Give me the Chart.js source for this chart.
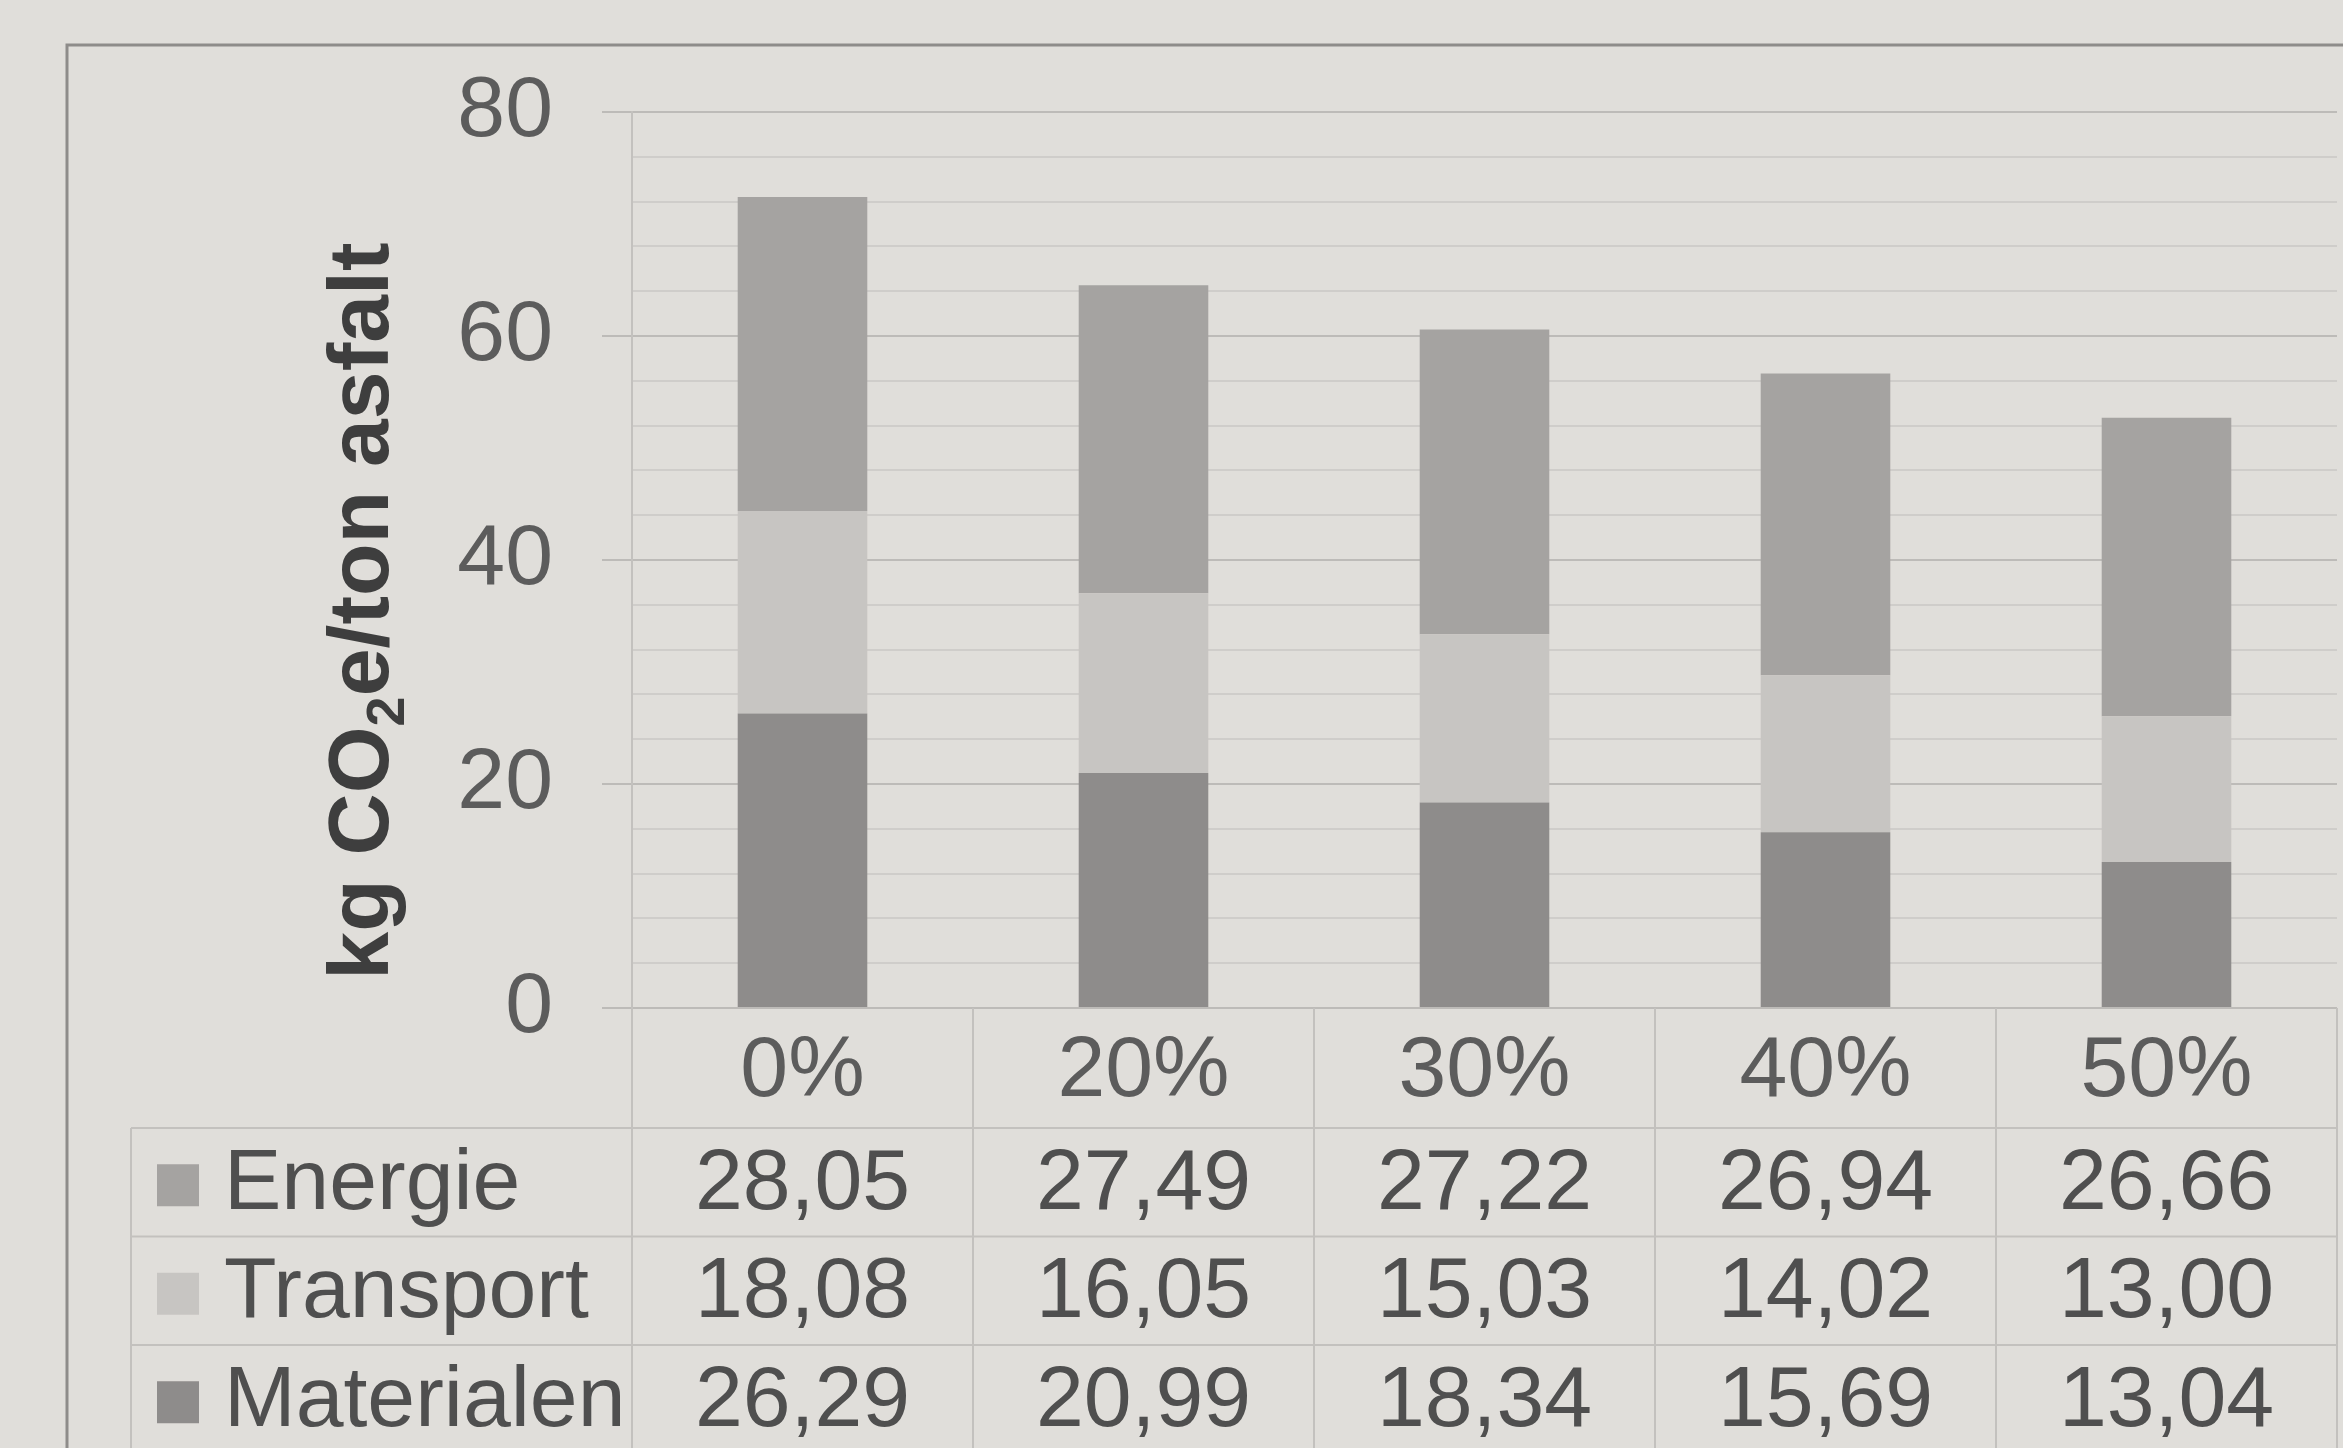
<!DOCTYPE html>
<html lang="nl">
  <head>
    <meta charset="UTF-8" />
    <title>CO2e per ton asfalt</title>
    <script src="https://cdn.jsdelivr.net/npm/chart.js"></script>
    <style>
      html, body { margin: 0; padding: 0; background: #e0deda; }
      #wrap { width: 2343px; height: 1448px; position: relative; }
    </style>
  </head>
  <body>
    <div id="wrap"><canvas id="chart"></canvas></div>

    <script>
      // percentage hergebruik (kolommen)
      const categories = ["0%", "20%", "30%", "40%", "50%"];

      // kg CO2e per ton asfalt
      const energie    = [28.05, 27.49, 27.22, 26.94, 26.66];
      const transport  = [18.08, 16.05, 15.03, 14.02, 13.00];
      const materialen = [26.29, 20.99, 18.34, 15.69, 13.04];

      // y-as
      const yMax = 80;
      const yGridStep = 4;
      const yLabelStep = 20;

      const FONT = "'Liberation Sans', Arial, sans-serif";
      const lineColor = "#c3c1be";

      // volgorde in de tabel (boven naar onder)
      const rows = [
        { label: "Energie",    data: energie,    color: "#a5a3a1" },
        { label: "Transport",  data: transport,  color: "#c7c5c2" },
        { label: "Materialen", data: materialen, color: "#8e8c8b" },
      ];

      const fmt = v => v.toFixed(2).replace(".", ",");

      /* achtergrond, kader, titel en datatabel */
      const tablePlugin = {
        id: "dataTable",
        beforeDraw(chart) {
          const { ctx, width, height } = chart;
          ctx.save();
          ctx.fillStyle = "#e0deda";
          ctx.fillRect(0, 0, width, height);
          ctx.strokeStyle = "#8e8c8a";
          ctx.lineWidth = 3;
          ctx.strokeRect(67, 45, width + 20, height + 20);
          ctx.restore();
        },
        afterDraw(chart) {
          const { ctx, chartArea: a, scales: { x } } = chart;
          const H = chart.height;
          const colW = x.width / categories.length;
          const headH = 120, rowH = 108.5, tableLeft = 131;
          const rowTop = a.bottom + headH;

          ctx.save();
          ctx.strokeStyle = lineColor;
          ctx.lineWidth = 2;
          ctx.beginPath();
          ctx.moveTo(a.left, a.bottom); ctx.lineTo(a.left, H);
          categories.forEach((_, i) => {
            const xr = x.getPixelForValue(i) + colW / 2;
            ctx.moveTo(xr, a.bottom); ctx.lineTo(xr, H);
          });
          ctx.moveTo(tableLeft, rowTop); ctx.lineTo(tableLeft, H);
          rows.forEach((_, r) => {
            const yy = rowTop + r * rowH;
            ctx.moveTo(tableLeft, yy); ctx.lineTo(a.right, yy);
          });
          ctx.stroke();

          // rijen: sleutel, naam, waarden
          ctx.font = `86px ${FONT}`;
          ctx.textBaseline = "middle";
          rows.forEach((row, r) => {
            const cy = rowTop + r * rowH + rowH / 2 + 3;
            ctx.fillStyle = row.color;
            ctx.fillRect(157, cy - 21, 42, 42);
            ctx.fillStyle = "#4f4f4f";
            ctx.textAlign = "left";
            ctx.fillText(row.label, 224, cy);
            ctx.textAlign = "center";
            row.data.forEach((v, i) => ctx.fillText(fmt(v), x.getPixelForValue(i), cy));
          });

          // y-as titel met subscript
          ctx.fillStyle = "#3e3e3e";
          ctx.translate(388, 611);
          ctx.rotate(-Math.PI / 2);
          ctx.textBaseline = "alphabetic";
          ctx.textAlign = "left";
          const big = `bold 86px ${FONT}`, small = `bold 54px ${FONT}`;
          const parts = [["kg CO", big, 0], ["2", small, 16], ["e/ton asfalt", big, 0]];
          let total = 0;
          parts.forEach(p => { ctx.font = p[1]; total += ctx.measureText(p[0]).width; });
          let px = -total / 2;
          parts.forEach(p => {
            ctx.font = p[1];
            ctx.fillText(p[0], px, p[2]);
            px += ctx.measureText(p[0]).width;
          });
          ctx.restore();
        }
      };

      new Chart(document.getElementById("chart"), {
        type: "bar",
        data: {
          labels: categories,
          datasets: rows.slice().reverse().map(r => ({
            label: r.label,
            data: r.data,
            backgroundColor: r.color,
            borderWidth: 0,
            categoryPercentage: 1,
            barPercentage: 0.38,
          })),
        },
        options: {
          responsive: true,
          maintainAspectRatio: false,
          animation: false,
          layout: { padding: { top: 112, right: 6, left: 0, bottom: 0 } },
          plugins: { legend: { display: false }, tooltip: { enabled: false } },
          scales: {
            x: {
              stacked: true,
              grid: { display: false, drawTicks: false },
              border: { display: false },
              ticks: { color: "#5c5c5c", font: { family: FONT, size: 86 }, padding: 13 },
              afterFit: s => { s.height = 440; },
            },
            y: {
              stacked: true,
              min: 0,
              max: yMax,
              ticks: {
                stepSize: yGridStep,
                autoSkip: false,
                color: "#5c5c5c",
                font: { family: FONT, size: 86 },
                padding: 49,
                callback: v => (v % yLabelStep === 0 ? v : ""),
              },
              grid: {
                color: c => (c.tick.value % yLabelStep === 0 ? "#bdbbb8" : "#cfcdca"),
                tickColor: c => (c.tick.value % yLabelStep === 0 ? "#bdbbb8" : "transparent"),
                lineWidth: 2,
                tickLength: 30,
              },
              border: { display: true, color: lineColor, width: 2 },
              afterFit: s => { s.width = 632; },
            },
          },
        },
        plugins: [tablePlugin],
      });
    </script>
  </body>
</html>
